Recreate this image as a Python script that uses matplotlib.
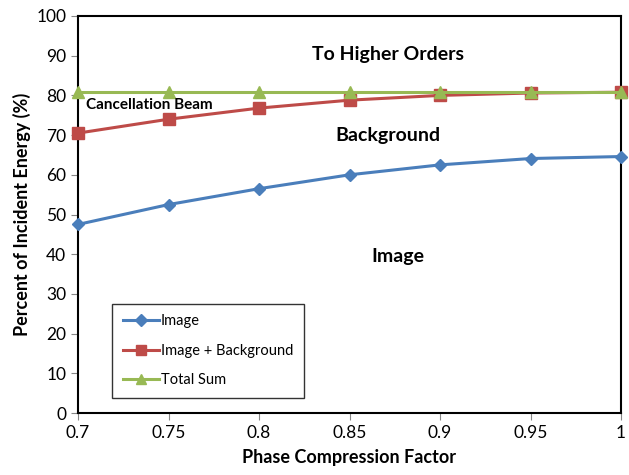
import matplotlib
matplotlib.use("Agg")
import matplotlib.pyplot as plt

plt.rcParams['font.family'] = ['Lato', 'DejaVu Sans']

# compression factor and energy fractions (%)
factor = [0.7, 0.75, 0.8, 0.85, 0.9, 0.95, 1.0]
image = [47.5, 52.5, 56.5, 60.0, 62.5, 64.1, 64.6]
image_bg = [70.5, 74.0, 76.8, 78.8, 80.0, 80.6, 80.8]
total = [80.8, 80.8, 80.8, 80.8, 80.8, 80.8, 80.8]

fig = plt.figure(figsize=(6.29, 4.75), dpi=100)
ax = fig.add_axes([78 / 629, 1 - 413 / 475, 543 / 629, 397 / 475])

ax.plot(factor, image, color='#4a7ebb', marker='D', markersize=6, lw=2.2,
        label='Image', clip_on=False, zorder=3)
ax.plot(factor, image_bg, color='#be4b48', marker='s', markersize=8, lw=2.2,
        label='Image + Background', clip_on=False, zorder=3)
ax.plot(factor, total, color='#98b954', marker='^', markersize=8, lw=2.2,
        label='Total Sum', clip_on=False, zorder=3)

ax.set_xlim(0.7, 1.0)
ax.set_ylim(0, 100)
ax.set_xticks(factor)
ax.set_xticklabels(['0.7', '0.75', '0.8', '0.85', '0.9', '0.95', '1'])
ax.set_yticks(range(0, 101, 10))
ax.tick_params(axis='both', labelsize=12.5, color='#868686', length=5, direction='out')
for s in ax.spines.values():
    s.set_color('black')
    s.set_linewidth(1.5)

ax.set_xlabel('Phase Compression Factor', fontsize=13, fontweight='bold', labelpad=6)
ax.set_ylabel('Percent of Incident Energy (%)', fontsize=13, fontweight='bold', labelpad=4)

ax.text(0.871, 90.2, 'To Higher Orders', ha='center', va='center', fontsize=14, fontweight='bold')
ax.text(0.871, 70.0, 'Background', ha='center', va='center', fontsize=14, fontweight='bold')
ax.text(0.877, 39.3, 'Image', ha='center', va='center', fontsize=14, fontweight='bold')
ax.text(0.7045, 77.6, 'Cancellation Beam', ha='left', va='center', fontsize=11, fontweight='bold')

leg = ax.legend(loc='lower left', bbox_to_anchor=(34 / 543, 15 / 397), borderaxespad=0,
                fontsize=10.5, frameon=True, fancybox=False, edgecolor='black',
                handlelength=2.5, borderpad=0.75, labelspacing=1.05, handletextpad=0.1)
leg.get_frame().set_linewidth(1.0)
for h in leg.legend_handles:
    h.set_markersize(6.5)

fig.savefig('out.png', dpi=100)
